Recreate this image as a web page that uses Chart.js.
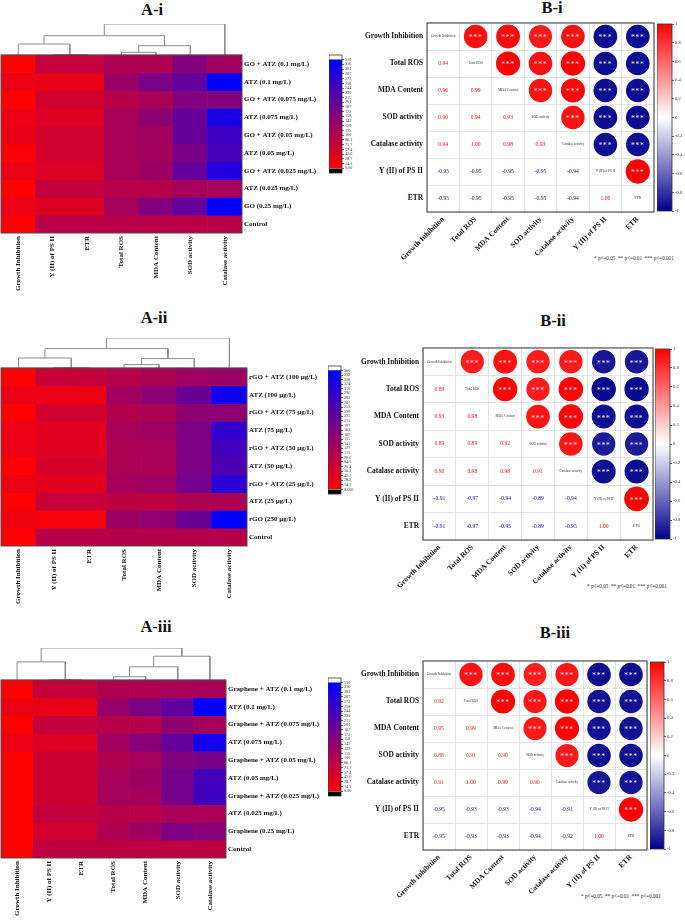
<!DOCTYPE html>
<html>
<head>
<meta charset="utf-8">
<script src="https://cdn.jsdelivr.net/npm/chart.js@4.4.1/dist/chart.umd.min.js"></script>
<style>
  body { margin: 0; background: #fff; width: 685px; height: 920px; position: relative; overflow: hidden; }
  .ttl { position: absolute; transform: translate(-50%, -50%); font: bold 16.5px "Liberation Serif", serif; line-height: 1; white-space: nowrap; color: #111; }
  .note { position: absolute; transform: translateY(-50%); font: 5.2px "Liberation Serif", serif; white-space: pre; color: #222; }
</style>
</head>
<body>
<div class="ttl" style="left:152px;top:10px">A-i</div>
<div class="ttl" style="left:154px;top:318px">A-ii</div>
<div class="ttl" style="left:156px;top:627px">A-iii</div>
<div class="ttl" style="left:552px;top:8px">B-i</div>
<div class="ttl" style="left:553px;top:321px">B-ii</div>
<div class="ttl" style="left:555px;top:633px">B-iii</div>
<div class="note" style="left:594px;top:258px">* p&lt;=0.05  ** p&lt;=0.01  *** p&lt;=0.001</div>
<div class="note" style="left:587px;top:586px">* p&lt;=0.05  ** p&lt;=0.01  *** p&lt;=0.001</div>
<div class="note" style="left:581px;top:896px">* p&lt;=0.05  ** p&lt;=0.01  *** p&lt;=0.001</div>
<script>
// ---------- dados ----------
const varsA = ["Growth Inhibition", "Y (II) of PS II", "ETR", "Total ROS", "MDA Content", "SOD activity", "Catalase activity"];
const varsB = ["Growth Inhibition", "Total ROS", "MDA Content", "SOD activity", "Catalase activity", "Y (II) of PS II", "ETR"];

const rowsA1 = ["GO + ATZ (0.1 mg/L)", "ATZ (0.1 mg/L)", "GO + ATZ (0.075 mg/L)", "ATZ (0.075 mg/L)", "GO + ATZ (0.05 mg/L)",
  "ATZ (0.05 mg/L)", "GO + ATZ (0.025 mg/L)", "ATZ (0.025 mg/L)", "GO (0.25 mg/L)", "Control"];
const heatA1 = [
  [3, 78, 78, 105, 105, 160, 120],
  [26, 30, 30, 132, 172, 200, 330],
  [3, 58, 58, 95, 112, 160, 160],
  [26, 45, 45, 112, 148, 198, 297],
  [30, 58, 58, 112, 122, 198, 252],
  [5, 58, 58, 112, 122, 175, 240],
  [26, 45, 45, 112, 130, 200, 285],
  [3, 78, 78, 95, 95, 116, 116],
  [26, 45, 45, 116, 162, 200, 330],
  [0, 90, 90, 90, 90, 90, 90]
];
// [a, b, altura] : folhas 0..6, nós novos a partir de 7
const mergeA1 = [[1, 2, 0.3], [0, 7, 11], [3, 4, 2.7], [9, 5, 9.3], [8, 10, 19.3], [11, 6, 31]];
const ticksA1 = ["0.00", "14.3", "28.7", "43.0", "57.4", "71.7", "86.1", "100", "115", "129", "143", "158",
  "172", "187", "201", "215", "230", "244", "258", "273", "287", "301", "316", "330"];

const rowsA2 = ["rGO + ATZ (100 µg/L)", "ATZ (100 µg/L)", "rGO + ATZ (75 µg/L)", "ATZ (75 µg/L)", "rGO + ATZ (50 µg/L)",
  "ATZ (50 µg/L)", "rGO + ATZ (25 µg/L)", "ATZ (25 µg/L)", "rGO (250 µg/L)", "Control"];
const heatA2 = [
  [3, 80, 85, 105, 120, 140, 145],
  [29, 29, 29, 135, 165, 215, 345],
  [3, 65, 65, 110, 120, 165, 165],
  [29, 43, 43, 125, 140, 190, 295],
  [29, 46, 46, 120, 125, 190, 270],
  [5, 60, 60, 120, 122, 190, 255],
  [29, 40, 40, 130, 140, 200, 305],
  [3, 80, 80, 95, 95, 120, 120],
  [20, 12, 12, 145, 160, 215, 366],
  [3, 105, 105, 105, 105, 105, 105]
];
const mergeA2 = [[1, 2, 0.3], [0, 7, 10], [3, 4, 3.4], [9, 5, 9.4], [8, 10, 19.4], [11, 6, 30]];
const ticksA2 = ["0.000", "14.1", "28.2", "42.2", "56.3", "70.4", "84.5", "98.6", "113", "127", "141", "155", "169",
  "183", "197", "211", "225", "239", "253", "267", "282", "296", "310", "324", "338", "352", "366"];

const rowsA3 = ["Graphene + ATZ (0.1 mg/L)", "ATZ (0.1 mg/L)", "Graphene + ATZ (0.075 mg/L)", "ATZ (0.075 mg/L)",
  "Graphene + ATZ (0.05 mg/L)", "ATZ (0.05 mg/L)", "Graphene + ATZ (0.025 mg/L)", "ATZ (0.025 mg/L)", "Graphene (0.25 mg/L)", "Control"];
const heatA3 = [
  [0, 78, 78, 103, 103, 112, 116],
  [26, 30, 30, 135, 172, 205, 330],
  [0, 78, 78, 95, 95, 145, 118],
  [26, 45, 45, 122, 155, 200, 305],
  [0, 65, 65, 103, 116, 160, 175],
  [0, 65, 65, 116, 128, 180, 245],
  [0, 65, 65, 116, 118, 180, 250],
  [0, 78, 78, 95, 95, 110, 110],
  [0, 58, 58, 103, 125, 168, 155],
  [0, 85, 85, 85, 85, 85, 85]
];
const mergeA3 = [[1, 2, 0.3], [0, 7, 18.3], [3, 4, 3.3], [9, 5, 13.3], [10, 6, 24], [8, 11, 32.3]];
const ticksA3 = ticksA1;

// matriz de correlação (triângulo inferior)
const corrB1 = [
  [1],
  [0.94, 1],
  [0.96, 0.99, 1],
  [0.90, 0.94, 0.93, 1],
  [0.94, 1.00, 0.98, 0.93, 1],
  [-0.95, -0.95, -0.95, -0.95, -0.94, 1],
  [-0.95, -0.95, -0.95, -0.95, -0.94, 1.00, 1]
];
const corrB2 = [
  [1],
  [0.89, 1],
  [0.93, 0.98, 1],
  [0.89, 0.89, 0.92, 1],
  [0.90, 0.98, 0.98, 0.91, 1],
  [-0.91, -0.97, -0.94, -0.89, -0.94, 1],
  [-0.91, -0.97, -0.95, -0.89, -0.95, 1.00, 1]
];
const corrB3 = [
  [1],
  [0.92, 1],
  [0.95, 0.99, 1],
  [0.88, 0.91, 0.90, 1],
  [0.91, 1.00, 0.99, 0.90, 1],
  [-0.95, -0.93, -0.93, -0.94, -0.91, 1],
  [-0.95, -0.93, -0.93, -0.94, -0.92, 1.00, 1]
];
const cbTicksB = [-1, -0.8, -0.6, -0.4, -0.2, 0, 0.2, 0.4, 0.6, 0.8, 1];

// ---------- util ----------
Chart.defaults.font.family = '"Liberation Serif", "Times New Roman", serif';
Chart.defaults.color = "#111";
Chart.defaults.animation = false;
Chart.defaults.plugins.legend.display = false;
Chart.defaults.plugins.tooltip.enabled = false;

function addCanvas(left, top, w, h) {
  const c = document.createElement("canvas");
  c.width = w; c.height = h;
  c.style.cssText = `position:absolute;left:${left}px;top:${top}px;width:${w}px;height:${h}px`;
  document.body.appendChild(c);
  return c;
}

function heatColor(t) {
  t = Math.max(0, Math.min(1, t));
  return `rgb(${Math.round(255 * (1 - t))},0,${Math.round(255 * t)})`;
}

function corrColor(v) {
  if (v >= 0) { const g = Math.round(255 * (1 - v)); return `rgb(255,${g},${g})`; }
  const t = -v, g = Math.round(255 * (1 - t));
  return `rgb(${g},${g},${Math.round(255 - 116 * t)})`;
}

function vGradient(chart, v0, v1, stops) {
  const y = chart.scales.y;
  if (!y || !chart.chartArea) return stops[0];
  const g = chart.ctx.createLinearGradient(0, y.getPixelForValue(v0), 0, y.getPixelForValue(v1));
  stops.forEach((c, i) => g.addColorStop(i / (stops.length - 1), c));
  return g;
}

const areaFrame = (color, lw) => ({
  id: "areaFrame",
  afterDatasetsDraw(chart) {
    const a = chart.chartArea, c = chart.ctx;
    c.save(); c.strokeStyle = color; c.lineWidth = lw;
    c.strokeRect(a.left, a.top, a.right - a.left, a.bottom - a.top);
    c.restore();
  }
});

/* ---------- HEATMAP + dendrograma ---------- */
function drawHeat(pos, rows, vals, merges, ticks) {
  const vmax = parseFloat(ticks[ticks.length - 1]);
  const n = rows.length;
  const [l, t, r, b] = pos.area;
  const rowH = (b - pos.heatTop) / n;
  const dendroRows = (pos.heatTop - t) / rowH;
  const k = dendroRows / Math.max(...merges.map(m => m[2]));

  const datasets = vals.map((row, i) => ({
    type: "bar",
    data: row.map(() => [n - 1 - i, n - i]),
    backgroundColor: row.map(v => heatColor(v / vmax)),
    borderWidth: 0, grouped: false, barPercentage: 1, categoryPercentage: 1,
    xAxisID: "x", yAxisID: "y"
  }));

  const xs = varsA.map((_, i) => i), hs = varsA.map(() => 0);
  merges.forEach(([a, c, h]) => {
    datasets.push({
      type: "line", xAxisID: "xd", yAxisID: "y",
      data: [
        { x: xs[a], y: n + hs[a] * k }, { x: xs[a], y: n + h * k },
        { x: xs[c], y: n + h * k }, { x: xs[c], y: n + hs[c] * k }
      ],
      borderColor: "#8c8c8c", borderWidth: 1, pointRadius: 0, tension: 0, fill: false
    });
    xs.push((xs[a] + xs[c]) / 2); hs.push(h);
  });

  new Chart(addCanvas(pos.left, pos.top, pos.w, pos.h), {
    type: "bar",
    data: { labels: varsA, datasets },
    options: {
      responsive: false, events: [],
      layout: { padding: { left: l - pos.left, top: t - pos.top, right: 0, bottom: 0 } },
      scales: {
        x: {
          type: "category", position: "bottom",
          grid: { display: false, drawTicks: false }, border: { display: false },
          ticks: { font: { size: 7, weight: "bold" }, color: "#111", minRotation: 90, maxRotation: 90, padding: 3, autoSkip: false },
          afterFit: s => { s.height = pos.top + pos.h - b; }
        },
        xd: { type: "linear", display: false, offset: false, grid: { offset: false }, min: -0.5, max: varsA.length - 0.5 },
        y: {
          type: "linear", position: "right", min: 0, max: n + dendroRows,
          grid: { display: false, drawTicks: false }, border: { display: false },
          afterBuildTicks: s => { s.ticks = rows.map((_, i) => ({ value: i + 0.5 })); },
          ticks: { callback: v => rows[Math.round(n - 0.5 - v)], font: { size: 7, weight: "bold" }, color: "#111", padding: 2, autoSkip: false },
          afterFit: s => { s.width = pos.left + pos.w - r; }
        }
      }
    },
    plugins: [{
      id: "heatFrame",
      afterDatasetsDraw(chart) {
        const { ctx, chartArea: a, scales: { y } } = chart;
        const y0 = y.getPixelForValue(n), y1 = y.getPixelForValue(0);
        ctx.save(); ctx.strokeStyle = "#4a4a4a"; ctx.lineWidth = 1;
        ctx.strokeRect(a.left, y0, a.right - a.left, y1 - y0);
        ctx.restore();
      }
    }]
  });
}

function drawHeatBar(pos, ticks) {
  const vmax = parseFloat(ticks[ticks.length - 1]);
  const step = vmax / (ticks.length - 1);
  const base = { borderWidth: 0, grouped: false, barPercentage: 1, categoryPercentage: 1 };
  new Chart(addCanvas(pos.left, pos.top, pos.w, pos.h), {
    type: "bar",
    data: {
      labels: [""],
      datasets: [
        { ...base, data: [[-step, 0]], backgroundColor: "#000" },
        { ...base, data: [[0, vmax]], backgroundColor: c => vGradient(c.chart, 0, vmax, ["#ff0000", "#0000ff"]) },
        { ...base, data: [[vmax, vmax + step]], backgroundColor: "#fff" }
      ]
    },
    options: {
      responsive: false, events: [],
      layout: { padding: { top: 6, bottom: 6 } },
      scales: {
        x: { display: false },
        y: {
          position: "right", min: -step, max: vmax + step,
          afterBuildTicks: s => { s.ticks = ticks.map(v => ({ value: parseFloat(v) })); },
          ticks: { callback: (v, i) => ticks[i], font: { size: 4.2 }, color: "#333", padding: 1, autoSkip: false },
          grid: { drawOnChartArea: false, tickLength: 2, color: "#666" }, border: { display: false },
          afterFit: s => { s.width = pos.w - pos.barW; }
        }
      }
    },
    plugins: [areaFrame("#333", 0.8)]
  });
}

/* ---------- CORRELAÇÃO ---------- */
function corrText(corr) {
  return {
    id: "corrText",
    afterDatasetsDraw(chart) {
      const { ctx, scales: { x, y } } = chart;
      const n = varsB.length;
      ctx.save(); ctx.textAlign = "center"; ctx.textBaseline = "middle";
      for (let i = 0; i < n; i++) for (let j = 0; j < n; j++) {
        const px = x.getPixelForValue(j + 0.5), py = y.getPixelForValue(n - i - 0.5);
        if (j < i) {
          ctx.font = '5.6px "Liberation Serif"'; ctx.fillStyle = corrColor(corr[i][j]);
          ctx.fillText(corr[i][j].toFixed(2), px, py);
        } else if (j === i) {
          ctx.font = '3.4px "Liberation Serif"'; ctx.fillStyle = "#333";
          ctx.fillText(varsB[i], px, py);
        } else {
          ctx.font = '7.5px "Liberation Serif"'; ctx.fillStyle = "#e8e8f0";
          ctx.letterSpacing = "0.8px";
          ctx.fillText("***", px, py + 2);
          ctx.letterSpacing = "0px";
        }
      }
      ctx.restore();
    }
  };
}

function drawCorr(pos, corr) {
  const n = varsB.length;
  const [l, t, r, b] = pos.area;
  const pts = [];
  for (let i = 0; i < n; i++) for (let j = i + 1; j < n; j++) pts.push({ x: j + 0.5, y: n - i - 0.5, v: corr[j][i] });
  const tickFont = { size: 7.4, weight: "bold" };

  new Chart(addCanvas(pos.left, pos.top, pos.w, pos.h), {
    type: "scatter",
    data: {
      datasets: [{
        data: pts, clip: false, pointBorderWidth: 0,
        pointBackgroundColor: c => c.raw ? corrColor(c.raw.v) : "#fff",
        pointRadius: c => {
          const a = c.chart.chartArea;
          if (!a || !c.raw) return 0;
          const cell = Math.min(a.right - a.left, a.bottom - a.top) / n;
          return 0.45 * Math.sqrt(Math.abs(c.raw.v)) * cell;
        }
      }]
    },
    options: {
      responsive: false, events: [],
      layout: { padding: { left: 0, top: t - pos.top, right: pos.left + pos.w - r, bottom: 0 } },
      scales: {
        x: {
          type: "linear", min: 0, max: n, position: "bottom",
          afterBuildTicks: s => { s.ticks = varsB.map((_, i) => ({ value: i + 0.5 })); },
          ticks: { callback: (v, i) => varsB[i], autoSkip: false, minRotation: 45, maxRotation: 45, padding: 3, font: tickFont, color: "#111" },
          grid: { offset: true, color: "#e3e3e3", drawTicks: false }, border: { display: false },
          afterFit: s => { s.height = pos.top + pos.h - b; }
        },
        y: {
          type: "linear", min: 0, max: n, position: "left",
          afterBuildTicks: s => { s.ticks = varsB.map((_, i) => ({ value: i + 0.5 })); },
          ticks: { callback: (v, i) => varsB[n - 1 - i], autoSkip: false, padding: 4, font: tickFont, color: "#111" },
          grid: { offset: true, color: "#e3e3e3", drawTicks: false }, border: { display: false },
          afterFit: s => { s.width = l - pos.left; }
        }
      }
    },
    plugins: [corrText(corr), areaFrame("#555", 1.2)]
  });
}

function drawCorrBar(pos) {
  new Chart(addCanvas(pos.left, pos.top, pos.w, pos.h), {
    type: "bar",
    data: {
      labels: [""],
      datasets: [{
        data: [[-1, 1]], borderWidth: 0, barPercentage: 1, categoryPercentage: 1,
        backgroundColor: c => vGradient(c.chart, -1, 1, ["#00008b", "#ffffff", "#ff0000"])
      }]
    },
    options: {
      responsive: false, events: [],
      layout: { padding: { top: 6, bottom: 6 } },
      scales: {
        x: { display: false },
        y: {
          position: "right", min: -1, max: 1,
          afterBuildTicks: s => { s.ticks = cbTicksB.map(v => ({ value: v })); },
          ticks: { callback: (v, i) => String(cbTicksB[i]), font: { size: 4.6 }, color: "#333", padding: 1, autoSkip: false },
          grid: { drawOnChartArea: false, tickLength: 2, color: "#666" }, border: { display: false },
          afterFit: s => { s.width = pos.w - pos.barW; }
        }
      }
    },
    plugins: [areaFrame("#333", 0.8)]
  });
}

// ---------- montar ----------
drawHeat({ left: 0, top: 14, w: 330, h: 286, area: [1, 24, 242, 233], heatTop: 55 }, rowsA1, heatA1, mergeA1, ticksA1);
drawHeat({ left: 0, top: 326, w: 327, h: 282, area: [1, 338, 247, 546], heatTop: 368 }, rowsA2, heatA2, mergeA2, ticksA2);
drawHeat({ left: 0, top: 636, w: 327, h: 284, area: [1, 648, 226, 858], heatTop: 680 }, rowsA3, heatA3, mergeA3, ticksA3);

drawHeatBar({ left: 329, top: 49, w: 33, h: 130, barW: 13 }, ticksA1);
drawHeatBar({ left: 328, top: 360, w: 33, h: 140, barW: 13 }, ticksA2);
drawHeatBar({ left: 328, top: 672, w: 33, h: 130, barW: 13 }, ticksA3);

drawCorr({ left: 340, top: 12, w: 316, h: 278, area: [427, 23, 654, 212] }, corrB1);
drawCorr({ left: 340, top: 336, w: 315, h: 280, area: [423, 348, 653, 540] }, corrB2);
drawCorr({ left: 340, top: 650, w: 309, h: 270, area: [423, 661, 647, 850] }, corrB3);

drawCorrBar({ left: 657, top: 18, w: 28, h: 199, barW: 15 });
drawCorrBar({ left: 655, top: 343, w: 30, h: 202, barW: 15 });
drawCorrBar({ left: 650, top: 656, w: 33, h: 199, barW: 14 });
</script>
</body>
</html>
